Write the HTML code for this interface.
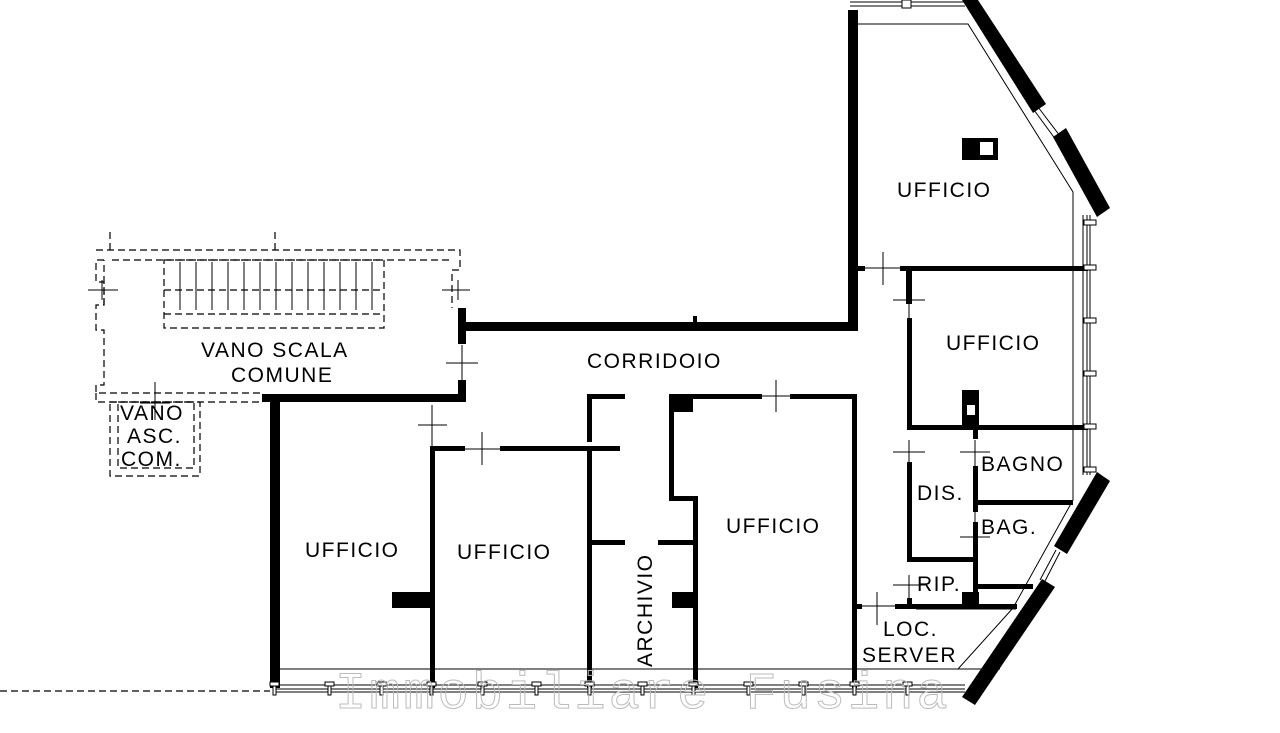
<!DOCTYPE html>
<html><head><meta charset="utf-8"><style>
html,body{margin:0;padding:0;background:#fff;}
svg{display:block}
text{font-family:"Liberation Sans",sans-serif;font-size:21px;fill:#000;letter-spacing:1.5px}
</style></head><body>
<svg width="1280" height="733" viewBox="0 0 1280 733" xmlns="http://www.w3.org/2000/svg">
<g fill="#000">
<rect x="270" y="394" width="10" height="294"/>
<rect x="262" y="394" width="204" height="8"/>
<rect x="458" y="380" width="8" height="22"/>
<rect x="458" y="308" width="8" height="36"/>
<rect x="462" y="322" width="396" height="9"/>
<rect x="693" y="316" width="4" height="8"/>
<rect x="848" y="10" width="10" height="321"/>
<rect x="857" y="266" width="8" height="5"/>
<rect x="900" y="266" width="188" height="5"/>
<rect x="906" y="268" width="6" height="36"/>
<rect x="907" y="318" width="5" height="112"/>
<rect x="907" y="425" width="181" height="5"/>
<rect x="962" y="390" width="17" height="40"/>
<rect x="907" y="462" width="5" height="100"/>
<rect x="907" y="557" width="70" height="5"/>
<rect x="907" y="598" width="5" height="10"/>
<rect x="973" y="425" width="5" height="14"/>
<rect x="973" y="466" width="5" height="46"/>
<rect x="973" y="500" width="100" height="5"/>
<rect x="973" y="522" width="5" height="86"/>
<rect x="973" y="584" width="60" height="5"/>
<rect x="962" y="592" width="17" height="16"/>
<rect x="895" y="604" width="122" height="5"/>
<rect x="852" y="604" width="10" height="5"/>
<rect x="669" y="394" width="93" height="5"/>
<rect x="790" y="394" width="67" height="5"/>
<rect x="852" y="394" width="5" height="294"/>
<rect x="669" y="394" width="5" height="106"/>
<rect x="669" y="396" width="24" height="16"/>
<rect x="669" y="496" width="28" height="5"/>
<rect x="693" y="496" width="5" height="192"/>
<rect x="672" y="592" width="22" height="16"/>
<rect x="587" y="394" width="38" height="5"/>
<rect x="587" y="394" width="5" height="48"/>
<rect x="432" y="446" width="33" height="5"/>
<rect x="500" y="446" width="120" height="5"/>
<rect x="587" y="446" width="5" height="242"/>
<rect x="587" y="540" width="38" height="5"/>
<rect x="658" y="540" width="38" height="5"/>
<rect x="430" y="446" width="5" height="242"/>
<rect x="392" y="592" width="40" height="16"/>
<polygon points="962,0 978,0 1046,104 1033,113"/>
<polygon points="1053,137 1066,128 1110,208 1097,217"/>
<polygon points="1097,472 1110,481 1067,554 1054,546"/>
<polygon points="1042,579 1055,587 975,705 962,697"/>
<rect x="962" y="138" width="36" height="22"/>
</g>
<rect x="980" y="142" width="13" height="13" fill="#fff"/>
<rect x="967" y="405" width="8" height="10" fill="#fff"/>
<g stroke="#000" stroke-width="1" fill="none">
<polyline points="858,24 968,24 1073,192 1073,500 1013,608"/>
<line x1="280" y1="669" x2="1000" y2="669"/>
<polyline points="858,669 958,669 1013,608"/>
<line x1="1034" y1="110" x2="1056" y2="140"/>
<line x1="1038" y1="107" x2="1060" y2="136"/>
<line x1="1056" y1="550" x2="1040" y2="580"/>
<line x1="1060" y1="552" x2="1044" y2="583"/>
<line x1="1083" y1="215" x2="1083" y2="475"/>
<line x1="1087" y1="215" x2="1087" y2="475"/>
<line x1="1090" y1="215" x2="1090" y2="475"/>
<line x1="274" y1="685" x2="965" y2="685"/>
<line x1="274" y1="689" x2="965" y2="689"/>
<line x1="274" y1="692" x2="965" y2="692"/>
<line x1="850" y1="2" x2="965" y2="2"/>
<line x1="850" y1="6" x2="965" y2="6"/>
<path d="M883,252V285M865,268H900"/>
<path d="M909,285V318M893,300H925"/>
<path d="M909,440V466M893,452H925"/>
<path d="M975,440V466M960,452H990"/>
<path d="M975,512V524M960,537H990"/>
<path d="M909,575V598M893,585H925"/>
<path d="M877,592V625M862,606H895"/>
<path d="M776,380V412M762,396H790"/>
<path d="M482,432V465M465,449H500"/>
<path d="M432,405V446M418,425H447"/>
<path d="M462,345V380M446,363H478"/>
<path d="M916,609H1016"/>
</g>
<g fill="#fff" stroke="#000" stroke-width="1">
<rect x="270" y="682" width="9" height="4"/><rect x="273" y="686" width="3" height="9"/>
<rect x="325" y="682" width="9" height="4"/><rect x="328" y="686" width="3" height="9"/>
<rect x="377" y="682" width="9" height="4"/><rect x="380" y="686" width="3" height="9"/>
<rect x="427" y="682" width="9" height="4"/><rect x="430" y="686" width="3" height="9"/>
<rect x="478" y="682" width="9" height="4"/><rect x="481" y="686" width="3" height="9"/>
<rect x="532" y="682" width="9" height="4"/><rect x="535" y="686" width="3" height="9"/>
<rect x="585" y="682" width="9" height="4"/><rect x="588" y="686" width="3" height="9"/>
<rect x="638" y="682" width="9" height="4"/><rect x="641" y="686" width="3" height="9"/>
<rect x="689" y="682" width="9" height="4"/><rect x="692" y="686" width="3" height="9"/>
<rect x="744" y="682" width="9" height="4"/><rect x="747" y="686" width="3" height="9"/>
<rect x="799" y="682" width="9" height="4"/><rect x="802" y="686" width="3" height="9"/>
<rect x="850" y="682" width="9" height="4"/><rect x="853" y="686" width="3" height="9"/>
<rect x="903" y="682" width="9" height="4"/><rect x="906" y="686" width="3" height="9"/>
<rect x="1084" y="220" width="12" height="5"/><rect x="1084" y="265" width="12" height="5"/>
<rect x="1084" y="318" width="12" height="5"/><rect x="1084" y="371" width="12" height="5"/>
<rect x="1084" y="424" width="12" height="5"/><rect x="1084" y="467" width="12" height="5"/>
<rect x="902" y="0" width="9" height="8"/>
</g>
<g stroke="#000" stroke-width="1.2" fill="none" stroke-dasharray="7,4">
<polyline points="96,250 460,250 460,270 452,270 452,308"/>
<polyline points="104,260 96,260 96,282 104,282 104,305 96,305 96,330 104,330 104,385 96,385 96,393 262,393"/>
<polyline points="112,260 450,260"/>
<polyline points="104,305 104,260"/>
<rect x="164" y="260" width="220" height="68"/>
<line x1="164" y1="314" x2="384" y2="314"/>
<line x1="164" y1="290" x2="384" y2="290"/>
<polyline points="96,393 96,402 262,402"/>
<rect x="110" y="402" width="90" height="74"/>
<rect x="118" y="402" width="76" height="66"/>
<line x1="0" y1="691" x2="270" y2="691"/>
<line x1="110" y1="232" x2="110" y2="250"/>
<line x1="275" y1="232" x2="275" y2="250"/>
</g>
<g stroke="#000" stroke-width="1" fill="none">
<path d="M180,262V310M196,262V310M212,262V310M228,262V310M244,262V310M260,262V310M276,262V310M292,262V310M308,262V310M324,262V310M340,262V310M356,262V310M372,262V310"/>
<path d="M88,290H118M102,280V300M442,290H470M458,280V300M155,382V420M140,403H170"/>
</g>
<text x="897" y="197">UFFICIO</text>
<text x="946" y="350">UFFICIO</text>
<text x="201" y="357">VANO SCALA</text>
<text x="231" y="382">COMUNE</text>
<text x="587" y="368">CORRIDOIO</text>
<text x="120" y="420">VANO</text>
<text x="127" y="443">ASC.</text>
<text x="121" y="466">COM.</text>
<text x="305" y="557">UFFICIO</text>
<text x="457" y="559">UFFICIO</text>
<text x="726" y="533">UFFICIO</text>
<text x="981" y="471">BAGNO</text>
<text x="917" y="500">DIS.</text>
<text x="981" y="534">BAG.</text>
<text x="917" y="591">RIP.</text>
<text x="883" y="636">LOC.</text>
<text x="862" y="662">SERVER</text>
<text transform="translate(652,667) rotate(-90)">ARCHIVIO</text>
<text x="335" y="708" style="font-family:'Liberation Mono',monospace;font-size:52px;letter-spacing:3px;fill:none;stroke:#bbb;stroke-width:1">Immobiliare Fusina</text>
</svg>
</body></html>
